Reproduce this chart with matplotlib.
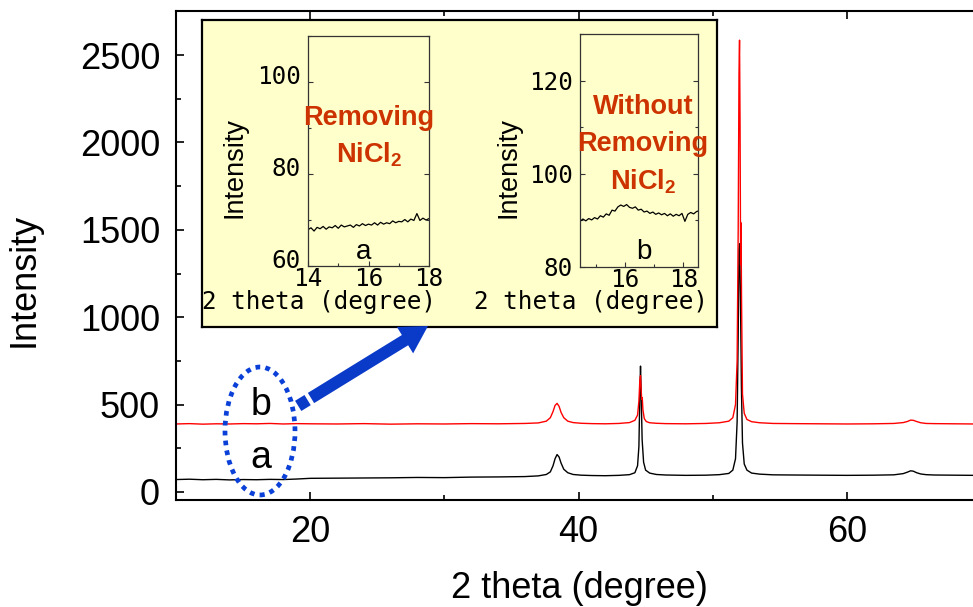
import matplotlib
matplotlib.use('Agg')
import matplotlib.pyplot as plt
from matplotlib.patches import Ellipse, FancyArrow
from matplotlib.lines import Line2D
import matplotlib.transforms as mtransforms
from matplotlib.ticker import MultipleLocator

plt.rcParams['font.family'] = ['Liberation Sans', 'DejaVu Sans']
plt.rcParams['mathtext.fontset'] = 'custom'
plt.rcParams['mathtext.rm'] = 'Liberation Sans:bold'
plt.rcParams['mathtext.it'] = 'Liberation Sans:bold'
plt.rcParams['mathtext.bf'] = 'Liberation Sans:bold'

# ---------------- data ----------------
# main pattern, sample a (black)
two_theta_a = [10, 11, 12, 13, 14, 15, 16, 17, 18, 19, 20, 22, 24, 26, 28, 30, 32, 34, 36,
               37.0, 37.6, 37.9, 38.1, 38.25, 38.4, 38.55, 38.7, 38.9, 39.2, 39.6, 40.2, 41,
               42, 43, 43.8, 44.2, 44.4, 44.5, 44.57, 44.62, 44.67, 44.74, 44.85, 45.0, 45.3,
               45.8, 46.5, 48, 49.5, 50.5, 51.2, 51.5, 51.7, 51.82, 51.9, 51.96, 52.01, 52.07,
               52.14, 52.22, 52.35, 52.55, 52.9, 53.5, 54.5, 56, 58, 60, 62, 63.5, 64.2, 64.5,
               64.75, 64.95, 65.2, 65.5, 65.9, 66.5, 68, 69.5]
intensity_a = [71, 73, 70, 72, 69, 71, 70, 72, 71, 74, 78, 79, 80, 81, 83, 82, 85, 86, 88,
               92, 100, 115, 150, 190, 214, 200, 165, 130, 110, 100, 96, 94,
               93, 95, 99, 110, 150, 260, 560, 720, 560, 300, 170, 125, 108,
               100, 97, 95, 96, 99, 106, 125, 190, 400, 900, 1380, 1420, 1100,
               600, 280, 160, 125, 108, 102, 98, 97, 96, 95, 96, 98, 105, 113,
               121, 119, 110, 103, 99, 97, 96, 95]

# main pattern, sample b (red, offset)
two_theta_b = [10, 11, 12, 13, 14, 15, 16, 17, 18, 19, 20, 22, 24, 26, 28, 30, 32, 34, 36,
               37.0, 37.6, 37.9, 38.1, 38.25, 38.4, 38.55, 38.7, 38.9, 39.2, 39.6, 40.2, 41,
               42, 43, 43.8, 44.2, 44.4, 44.5, 44.57, 44.62, 44.67, 44.71, 44.75, 44.8, 44.9,
               45.05, 45.3, 45.8, 46.5, 48, 49.5, 50.5, 51.2, 51.5, 51.7, 51.82, 51.9, 51.96,
               52.0, 52.04, 52.08, 52.11, 52.15, 52.22, 52.35, 52.55, 52.9, 53.5, 54.5, 56, 58,
               60, 62, 63.5, 64.2, 64.5, 64.75, 64.95, 65.2, 65.5, 65.9, 66.5, 68, 69.5]
intensity_b = [389, 391, 388, 390, 389, 391, 390, 392, 389, 391, 390, 389, 391, 388, 390, 389, 391, 390, 392,
               395, 405, 425, 460, 495, 507, 490, 455, 425, 405, 397, 393, 391,
               390, 392, 397, 410, 440, 520, 640, 665, 580, 530, 540, 470, 420,
               403, 396, 393, 391, 390, 392, 396, 405, 425, 500, 750, 1500, 2400,
               2585, 2100, 1300, 1540, 1100, 560, 450, 415, 402, 396, 392, 391, 390,
               389, 390, 392, 397, 403, 411, 410, 403, 396, 392, 391, 390, 389]

# inset a (removing NiCl2)
inset_a_x = [14.0, 14.1, 14.2, 14.3, 14.4, 14.5, 14.6, 14.7, 14.8, 14.9, 15.0, 15.1, 15.2, 15.3,
             15.4, 15.5, 15.6, 15.7, 15.8, 15.9, 16.0, 16.1, 16.2, 16.3, 16.4, 16.5, 16.6, 16.7,
             16.8, 16.9, 17.0, 17.1, 17.2, 17.3, 17.4, 17.5, 17.6, 17.7, 17.8, 17.9, 18.0]
inset_a_y = [67.9, 68.3, 67.6, 68.4, 68.1, 68.6, 68.0, 68.5, 68.3, 68.8, 68.2, 68.9, 68.5, 68.7,
             68.9, 68.4, 69.0, 68.7, 69.2, 68.8, 69.1, 68.9, 69.4, 68.9, 69.5, 69.1, 69.4, 69.2,
             69.8, 69.4, 69.7, 69.6, 70.1, 69.6, 70.2, 69.9, 71.4, 69.9, 70.4, 70.0, 70.3]

# inset b (without removing NiCl2)
inset_b_x = [14.45, 14.55, 14.65, 14.75, 14.85, 14.95, 15.05, 15.15, 15.25, 15.35, 15.45, 15.55,
             15.65, 15.75, 15.85, 15.95, 16.05, 16.15, 16.25, 16.35, 16.45, 16.55, 16.65, 16.75,
             16.85, 16.95, 17.05, 17.15, 17.25, 17.35, 17.45, 17.55, 17.65, 17.75, 17.85, 17.95,
             18.05, 18.15, 18.25, 18.35, 18.45, 18.5]
inset_b_y = [89.8, 90.3, 89.9, 90.4, 90.1, 90.6, 90.3, 91.0, 90.7, 91.4, 91.1, 92.2,
             92.0, 92.9, 93.3, 93.0, 93.4, 92.8, 92.6, 92.9, 92.2, 92.4, 91.8, 92.0,
             91.5, 91.8, 91.3, 91.6, 91.2, 91.5, 91.0, 91.4, 90.9, 91.3, 91.0, 91.5,
             89.8, 91.3, 91.7, 91.4, 91.9, 92.0]

x_ticks_main = [20, 40, 60]
y_ticks_main = [0, 500, 1000, 1500, 2000, 2500]

# ---------------- figure ----------------
W, H = 973, 607
fig = plt.figure(figsize=(W / 100, H / 100), dpi=100)


def rect(x0, y0, x1, y1):
    return [x0 / W, 1 - y1 / H, (x1 - x0) / W, (y1 - y0) / H]


def fpos(x, y):
    return (x / W, 1 - y / H)


ax = fig.add_axes(rect(176, 11, 973, 500))
ax.plot(two_theta_a, intensity_a, color='black', lw=1.0)
ax.plot(two_theta_b, intensity_b, color='red', lw=1.0)
ax.set_xlim(10, 69.4)
ax.set_ylim(-46, 2752)
ax.set_xticks(x_ticks_main)
ax.set_yticks(y_ticks_main)
ax.xaxis.set_minor_locator(MultipleLocator(10))
ax.yaxis.set_minor_locator(MultipleLocator(250))
ax.tick_params(which='both', direction='in', top=True, right=False, width=1.2)
ax.tick_params(which='major', length=6, labelsize=26)
ax.tick_params(axis='x', which='major', pad=10.5)
ax.tick_params(axis='y', which='major', pad=11.5)
ax.tick_params(which='minor', length=3.5)
for s in ax.spines.values():
    s.set_linewidth(1.5)
ax.spines['right'].set_visible(False)
ax.set_xlabel('2 theta (degree)', fontsize=26)
ax.xaxis.set_label_coords(0.506, -0.146)
ax.set_ylabel('Intensity', fontsize=26)
ax.yaxis.set_label_coords(-0.19, 0.45)
ax.yaxis.label.set_verticalalignment('center')

# inset frame
box = fig.add_axes(rect(202, 20, 717, 327))
box.set_facecolor('#FFFFCC')
box.set_xticks([])
box.set_yticks([])
for s in box.spines.values():
    s.set_linewidth(1.6)

mono = 'DejaVu Sans Mono'


def style_inset(a):
    a.set_facecolor('none')
    a.tick_params(which='both', direction='in', right=True, top=False, width=0.8,
                  colors='#333333', labelcolor='black')
    a.tick_params(which='major', length=3.5, labelsize=17.5, labelfontfamily=mono)
    a.tick_params(which='minor', length=2.5)
    a.tick_params(axis='y', pad=5)
    a.tick_params(axis='x', pad=1)
    for s in a.spines.values():
        s.set_linewidth(0.9)
        s.set_color('#333333')


ia = fig.add_axes(rect(308, 36, 429, 266))
ia.plot(inset_a_x, inset_a_y, color='black', lw=0.9)
ia.set_xlim(14, 18)
ia.set_ylim(60, 110)
ia.xaxis.set_major_locator(MultipleLocator(2))
ia.xaxis.set_minor_locator(MultipleLocator(1))
ia.yaxis.set_major_locator(MultipleLocator(20))
ia.yaxis.set_minor_locator(MultipleLocator(10))
style_inset(ia)
ia.set_xlabel('2 theta (degree)', fontsize=17.5, family=mono)
ia.xaxis.set_label_coords(0.091, -0.105)
ia.set_ylabel('Intensity', fontsize=19.5)
ia.yaxis.set_label_coords(-0.61, 0.43)
ia.yaxis.label.set_verticalalignment('center')
# the reference draws this inset's y labels a little above their ticks
shift_up = mtransforms.ScaledTranslation(0, 8 / 100, fig.dpi_scale_trans)
for t in ia.yaxis.get_major_ticks():
    t.label1.set_transform(t.label1.get_transform() + shift_up)

ib = fig.add_axes(rect(580, 34, 698, 267))
ib.plot(inset_b_x, inset_b_y, color='black', lw=0.9)
ib.set_xlim(14.45, 18.5)
ib.set_ylim(80, 130)
ib.xaxis.set_major_locator(MultipleLocator(2))
ib.xaxis.set_minor_locator(MultipleLocator(1))
ib.yaxis.set_major_locator(MultipleLocator(20))
ib.yaxis.set_minor_locator(MultipleLocator(10))
style_inset(ib)
ib.set_xlabel('2 theta (degree)', fontsize=17.5, family=mono)
ib.xaxis.set_label_coords(0.093, -0.1)
ib.set_ylabel('Intensity', fontsize=19.5)
ib.yaxis.set_label_coords(-0.61, 0.429)
ib.yaxis.label.set_verticalalignment('center')

red_txt = '#CC3300'
kw = dict(ha='center', va='center', color=red_txt, fontsize=19.5, fontweight='bold')
fig.text(*fpos(369, 118), 'Removing', **kw)
fig.text(*fpos(369, 155), r'NiCl$_2$', **kw)
fig.text(*fpos(643, 107), 'Without', **kw)
fig.text(*fpos(643, 144), 'Removing', **kw)
fig.text(*fpos(643, 182), r'NiCl$_2$', **kw)

fig.text(*fpos(364, 252), 'a', ha='center', va='center', fontsize=20)
fig.text(*fpos(644, 252), 'b', ha='center', va='center', fontsize=20)
fig.text(*fpos(261, 405), 'b', ha='center', va='center', fontsize=27)
fig.text(*fpos(261, 458), 'a', ha='center', va='center', fontsize=27)

blue = '#0A3AC8'
ell = Ellipse(fpos(260, 431), 70 / W, 128 / H, transform=fig.transFigure, fill=False,
              ec='#0A40D8', lw=3.4, ls=(0, (1, 1.1)))
fig.add_artist(ell)

pt = mtransforms.Affine2D().scale(1 / W, -1 / H).translate(0, 1) + fig.transFigure
arr = FancyArrow(311, 398, 117, -72, width=12, head_width=31, head_length=27,
                 length_includes_head=True, transform=pt, color=blue, lw=0)
fig.add_artist(arr)
dash = Line2D([298.2, 307.6], [405.9, 400.1], lw=8.6, color=blue,
              solid_capstyle='butt', transform=pt)
fig.add_artist(dash)

fig.savefig('out.png', dpi=100)
